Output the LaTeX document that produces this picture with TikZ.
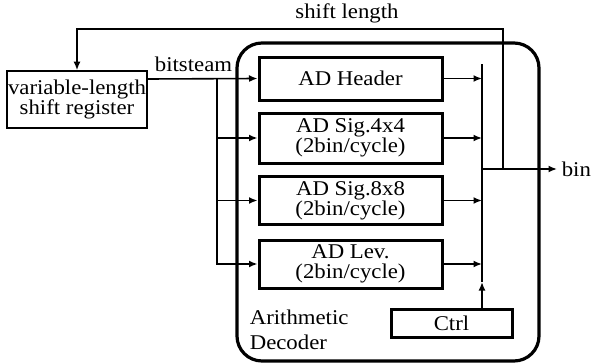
\documentclass[tikz,border=0pt]{standalone}
\usepackage{fontspec}
\setmainfont[FakeStretch=1.085]{Liberation Serif}
\usetikzlibrary{arrows.meta, positioning, calc}

\begin{document}
\begin{tikzpicture}[x=1pt, y=-1pt, >={Latex[length=8.5pt, width=7pt]}, line width=1.6pt,
  txt/.style={font=\fontsize{21}{20}\selectfont, align=center, inner sep=0pt},
  adblock/.style={txt, draw, line width=3pt, minimum width=183pt},
  regbox/.style={txt, draw, line width=1.6pt, minimum width=140pt, minimum height=57pt}]

% Bounding box
\useasboundingbox (0,0) rectangle (598,364);

% Arithmetic decoder frame
\draw[line width=3.2pt, rounded corners=25pt] (237,43) rectangle (539,361);
\node[txt, align=left, anchor=north west, font=\fontsize{21}{25}\selectfont] (adname) at (249,309) {Arithmetic\\Decoder};

% Shift register
\node[regbox] (reg) at (77,99.5) {variable-length\\shift register};

% Decoder blocks
\node[adblock, minimum height=43pt] (hdr) at (350.5,78.5) {AD Header};
\node[adblock, minimum height=50pt] (sig4) at (350.5,138) {AD Sig.4x4\\(2bin/cycle)};
\node[adblock, minimum height=48pt] (sig8) at (350.5,200.5) {AD Sig.8x8\\(2bin/cycle)};
\node[adblock, minimum height=48pt] (lev) at (350.5,264) {AD Lev.\\(2bin/cycle)};
\node[txt, draw, line width=3pt, minimum width=121pt, minimum height=28pt] (ctrl) at (451.5,323) {Ctrl};

% Input bus
\coordinate (busin) at (217,79);
\draw[->] ([yshift=20.5pt]reg.east) -- (hdr.west);
\node[txt, above] (bitlbl) at (193.5,73) {bitsteam};
\draw[->] (busin) |- (lev.west);
\draw[->] (busin |- sig4.west) -- (sig4.west);
\draw[->] (busin |- sig8.west) -- (sig8.west);

% Output bus
\coordinate (bustop) at (482,64);
\coordinate (busbot) at (482,282);
\draw (bustop) -- (busbot);
\draw[->] (hdr.east) -- (hdr.east -| bustop);
\draw[->] (sig4.east) -- (sig4.east -| bustop);
\draw[->] (sig8.east) -- (sig8.east -| bustop);
\draw[->] (lev.east) -- (lev.east -| bustop);
\draw[->] (ctrl.north -| busbot) -- (busbot);

% Output bin
\coordinate (tap) at (503,169);
\coordinate (binout) at (557,169);
\draw[->] (bustop |- tap) -- (binout);
\node[txt, right=4pt of binout] (binlbl) {bin};

% Shift length feedback
\coordinate (fbtop) at (503,29);
\draw[->] (tap) -- (fbtop) -| (reg.north);
\node[txt] (shiftlbl) at (347,13) {shift length};

\end{tikzpicture}
\end{document}
